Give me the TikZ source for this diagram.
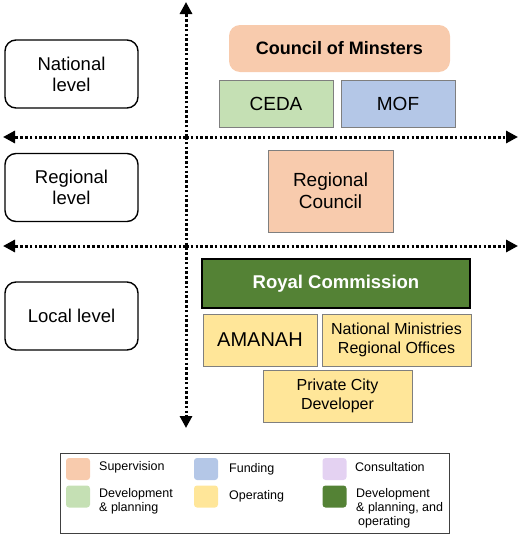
\documentclass[tikz,border=0pt]{standalone}
\usepackage{fontspec}
\setmainfont{Liberation Sans}
\usetikzlibrary{arrows.meta}

\definecolor{supcol}{HTML}{F8CBAD}
\definecolor{fundcol}{HTML}{B4C7E7}
\definecolor{conscol}{HTML}{E4D2F2}
\definecolor{devcol}{HTML}{C5E0B4}
\definecolor{opcol}{HTML}{FFE699}
\definecolor{allcol}{HTML}{548235}
\definecolor{edgecol}{HTML}{7F7F7F}

\tikzset{
	levelbox/.style={draw=black,line width=1.4pt,rounded corners=11pt,
		minimum width=133pt,minimum height=68pt,align=center,
		font=\fontsize{18.5}{21}\selectfont},
	unitbox/.style={draw=edgecol,line width=0.8pt,align=center,inner sep=2pt,
		font=\fontsize{19}{22}\selectfont},
	axisline/.style={line width=3pt,dash pattern=on 2.6pt off 2.2pt,
		-{Triangle[length=12pt,width=12pt]}},
	swatch/.style={rounded corners=3pt,minimum width=24pt,minimum height=22pt,inner sep=0pt},
	legtext/.style={anchor=west,align=left,inner sep=0pt,
		font=\fontsize{12.5}{14}\selectfont}
}

\begin{document}
\begin{tikzpicture}[x=1pt,y=-1pt]
	
	\useasboundingbox (0,0) rectangle (520,538);
	
	% ======================================================
	% Axes
	% ======================================================
	\coordinate (vtop) at (186,2);
	\coordinate (vbot) at (186,428);
	\coordinate (natL) at (3,137);
	\coordinate (natR) at (518,137);
	\coordinate (regL) at (3,246);
	\coordinate (regR) at (518,246);
	\coordinate (vmid) at (186,137);
	\coordinate (vmid2) at (186,246);
	
	\draw[axisline] (vmid) -- (vtop);
	\draw[axisline] (vmid) -- (vbot);
	\draw[axisline] (vmid) -- (natL);
	\draw[axisline] (vmid) -- (natR);
	\draw[axisline] (vmid2) -- (regL);
	\draw[axisline] (vmid2) -- (regR);
	
	% ======================================================
	% Levels
	% ======================================================
	\node[levelbox] (national) at (71.5,74) {National\\level};
	\node[levelbox] (regional) at (71.5,187.5) {Regional\\level};
	\node[levelbox] (local) at (71.5,316) {Local level};
	
	% ======================================================
	% National level
	% ======================================================
	\node[fill=supcol,rounded corners=11pt,minimum width=221pt,minimum height=47pt,
	font=\fontsize{18}{21}\selectfont\bfseries] (council) at (339.5,48.5) {Council of Minsters};
	\node[unitbox,fill=devcol,minimum width=114pt,minimum height=47pt] (ceda) at (276,103.5) {CEDA};
	\node[unitbox,fill=fundcol,minimum width=114pt,minimum height=47pt] (mof) at (398,103.5) {MOF};
	
	% ======================================================
	% Regional level
	% ======================================================
	\node[unitbox,fill=supcol,minimum width=125pt,minimum height=82pt] (regcouncil) at (330.5,191)
	{Regional\\Council};
	
	% ======================================================
	% Local level
	% ======================================================
	\node[draw=black,line width=2pt,fill=allcol,text=white,minimum width=268pt,minimum height=49pt,
	font=\fontsize{18.5}{21}\selectfont\bfseries] (royal) at (336,283.5) {Royal Commission};
	\node[unitbox,fill=opcol,minimum width=114pt,minimum height=52pt,
	font=\fontsize{20}{23}\selectfont] (amanah) at (260,340) {AMANAH};
	\node[unitbox,fill=opcol,minimum width=149pt,minimum height=52pt,
	font=\fontsize{16}{19}\selectfont] (natmin) at (396.5,340) {National Ministries\\Regional Offices};
	\node[unitbox,fill=opcol,minimum width=149pt,minimum height=52pt,
	font=\fontsize{16}{19}\selectfont] (private) at (337.5,396) {Private City\\Developer};
	
	% ======================================================
	% Legend
	% ======================================================
	\node[draw=black!75,line width=0.8pt,minimum width=389pt,minimum height=80pt] (legend) at (254.5,493) {};
	
	\foreach \i/\x/\y/\col in {
		1/78/469/supcol, 2/206/469/fundcol, 3/334.5/469/conscol,
		4/78/496.5/devcol, 5/206/496.5/opcol, 6/334.5/496.5/allcol}{
		\node[swatch,fill=\col] (sw\i) at (\x,\y) {};
	}
	\node[legtext] (lab1) at (99,467.5) {Supervision};
	\node[legtext] (lab2) at (229,469.5) {Funding};
	\node[legtext] (lab3) at (355,467.5) {Consultation};
	\node[legtext,anchor=north west] (lab4) at (99,488) {Development\\\& planning};
	\node[legtext] (lab5) at (229,496.5) {Operating};
	\node[legtext,anchor=north west] (lab6) at (356,488) {Development\\\& planning, and\\\hspace*{2pt}operating};
	
\end{tikzpicture}
\end{document}
